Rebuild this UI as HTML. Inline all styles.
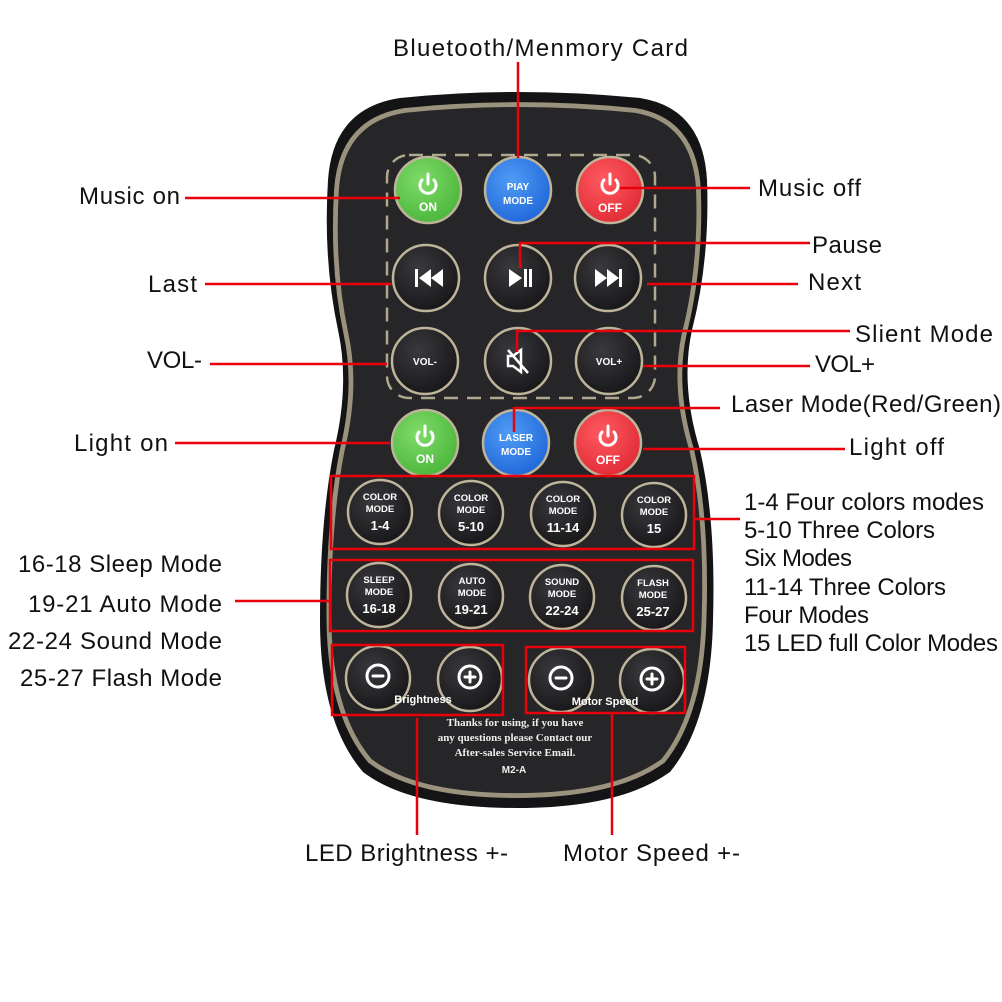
<!DOCTYPE html>
<html><head><meta charset="utf-8"><style>
html,body{margin:0;padding:0;background:#fff;}
svg{display:block;}
.l{font-family:"Liberation Sans",sans-serif;font-size:24px;fill:#111;}
.b{font-family:"Liberation Sans",sans-serif;font-weight:bold;fill:#fff;text-anchor:middle;}
.r{stroke:#e8000b;stroke-width:2.5;fill:none;}
</style></head><body>
<svg width="1002" height="1002" viewBox="0 0 1002 1002" xmlns="http://www.w3.org/2000/svg">
<defs>
<radialGradient id="dk" cx="40%" cy="35%" r="70%"><stop offset="0" stop-color="#3a3a3e"/><stop offset="1" stop-color="#161618"/></radialGradient>
<radialGradient id="gr" cx="40%" cy="35%" r="70%"><stop offset="0" stop-color="#7fdc6a"/><stop offset="1" stop-color="#4ab53a"/></radialGradient>
<radialGradient id="bl" cx="40%" cy="35%" r="70%"><stop offset="0" stop-color="#4f9cf5"/><stop offset="1" stop-color="#1f66d8"/></radialGradient>
<radialGradient id="rd" cx="40%" cy="35%" r="70%"><stop offset="0" stop-color="#ff5a60"/><stop offset="1" stop-color="#e02a35"/></radialGradient>
</defs>
<path d="M400 98 Q517 86 640 98 Q703 108 707 180 Q710 260 692 330 Q680 385 700 450 Q716 520 713 620 Q711 722 670 772 Q620 808 517 808 Q410 808 363 772 Q320 722 320 620 Q320 520 334 450 Q350 385 338 330 Q323 260 328 180 Q333 108 400 98 Z" fill="#141416"/>
<path transform="translate(517 452) scale(0.955 0.965) translate(-517 -452)" d="M400 98 Q517 86 640 98 Q703 108 707 180 Q710 260 692 330 Q680 385 700 450 Q716 520 713 620 Q711 722 670 772 Q620 808 517 808 Q410 808 363 772 Q320 722 320 620 Q320 520 334 450 Q350 385 338 330 Q323 260 328 180 Q333 108 400 98 Z" fill="#262628" stroke="#9a927c" stroke-width="5"/>
<rect x="387" y="155" width="268" height="243" rx="22" fill="none" stroke="#b0a88e" stroke-width="2.5" stroke-dasharray="14 9"/>
<g stroke="#bdb49a" stroke-width="2.5">
<circle cx="428" cy="190" r="33" fill="url(#gr)"/>
<circle cx="518" cy="190" r="33" fill="url(#bl)"/>
<circle cx="610" cy="190" r="33" fill="url(#rd)"/>
<circle cx="426" cy="278" r="33" fill="url(#dk)"/>
<circle cx="518" cy="278" r="33" fill="url(#dk)"/>
<circle cx="608" cy="278" r="33" fill="url(#dk)"/>
<circle cx="425" cy="361" r="33" fill="url(#dk)"/>
<circle cx="518" cy="361" r="33" fill="url(#dk)"/>
<circle cx="609" cy="361" r="33" fill="url(#dk)"/>
<circle cx="425" cy="443" r="33" fill="url(#gr)"/>
<circle cx="516" cy="443" r="33" fill="url(#bl)"/>
<circle cx="608" cy="443" r="33" fill="url(#rd)"/>
<circle cx="380" cy="512" r="32" fill="url(#dk)"/>
<circle cx="471" cy="513" r="32" fill="url(#dk)"/>
<circle cx="563" cy="514" r="32" fill="url(#dk)"/>
<circle cx="654" cy="515" r="32" fill="url(#dk)"/>
<circle cx="379" cy="595" r="32" fill="url(#dk)"/>
<circle cx="471" cy="596" r="32" fill="url(#dk)"/>
<circle cx="562" cy="597" r="32" fill="url(#dk)"/>
<circle cx="654" cy="598" r="32" fill="url(#dk)"/>
<circle cx="378" cy="678" r="32" fill="url(#dk)"/>
<circle cx="470" cy="679" r="32" fill="url(#dk)"/>
<circle cx="561" cy="680" r="32" fill="url(#dk)"/>
<circle cx="652" cy="681" r="32" fill="url(#dk)"/>
</g>
<g stroke="#fff" stroke-width="3" fill="none" stroke-linecap="round">
<path d="M422 180 A8 8 0 1 0 434 180 M428 174 V184"/>
<path d="M604 180 A8 8 0 1 0 616 180 M610 174 V184"/>
<path d="M419 432 A8 8 0 1 0 431 432 M425 426 V436"/>
<path d="M602 432 A8 8 0 1 0 614 432 M608 426 V436"/>
<circle cx="378" cy="676" r="11"/><path d="M373 676 H383"/>
<circle cx="470" cy="677" r="11"/><path d="M465 677 H475 M470 672 V682"/>
<circle cx="561" cy="678" r="11"/><path d="M556 678 H566"/>
<circle cx="652" cy="679" r="11"/><path d="M647 679 H657 M652 674 V684"/>
</g>
<g fill="#fff">
<path d="M415 269 h3 v18 h-3z M431 269 v18 l-12 -9z M443 269 v18 l-12 -9z"/>
<path d="M509 269 v18 l13 -9z M524 269 h3 v18 h-3z M529 269 h3 v18 h-3z"/>
<path d="M595 269 v18 l12 -9z M607 269 v18 l12 -9z M619 269 h3 v18 h-3z"/>
</g>
<g stroke="#fff" stroke-width="2.5" fill="none"><path d="M508 356 h5 l8 -6 v22 l-8 -6 h-5z M508 350 L528 373"/></g>
<g class="b" font-size="12"><text x="428" y="211">ON</text><text x="610" y="212">OFF</text><text x="425" y="463">ON</text><text x="608" y="464">OFF</text></g>
<g class="b" font-size="10"><text x="518" y="190">PIAY</text><text x="518" y="204">MODE</text>
<text x="516" y="441">LASER</text><text x="516" y="455">MODE</text>
<text x="425" y="365">VOL-</text><text x="609" y="365">VOL+</text></g>
<g class="b" font-size="9.5">
<text x="380" y="500">COLOR</text><text x="380" y="512">MODE</text>
<text x="471" y="501">COLOR</text><text x="471" y="513">MODE</text>
<text x="563" y="502">COLOR</text><text x="563" y="514">MODE</text>
<text x="654" y="503">COLOR</text><text x="654" y="515">MODE</text>
<text x="379" y="583">SLEEP</text><text x="379" y="595">MODE</text>
<text x="472" y="584">AUTO</text><text x="472" y="596">MODE</text>
<text x="562" y="585">SOUND</text><text x="562" y="597">MODE</text>
<text x="653" y="586">FLASH</text><text x="653" y="598">MODE</text>
</g>
<g class="b" font-size="13">
<text x="380" y="530">1-4</text><text x="471" y="531">5-10</text><text x="563" y="532">11-14</text><text x="654" y="533">15</text>
<text x="379" y="613">16-18</text><text x="471" y="614">19-21</text><text x="562" y="615">22-24</text><text x="653" y="616">25-27</text>
</g>
<g class="b" font-size="11"><text x="423" y="703">Brightness</text><text x="605" y="705">Motor Speed</text></g>
<g font-family="Liberation Serif,serif" font-weight="bold" font-size="11" fill="#eee" text-anchor="middle">
<text x="515" y="726">Thanks for using, if you have</text>
<text x="515" y="741">any questions please Contact our</text>
<text x="515" y="756">After-sales Service Email.</text>
<text x="514" y="773" font-family="Liberation Sans,sans-serif" font-size="10">M2-A</text>
</g>
<g class="r">
<path d="M518 62 V158"/>
<path d="M185 198 H400"/>
<path d="M620 188 H750"/>
<path d="M520 268 V243 H810"/>
<path d="M205 284 H392"/>
<path d="M647 284 H798"/>
<path d="M517 352 V331 H850"/>
<path d="M210 364 H387"/>
<path d="M643 366 H810"/>
<path d="M514 432 V408 H720"/>
<path d="M175 443 H390"/>
<path d="M643 449 H845"/>
<rect x="331" y="476" width="363" height="73"/>
<path d="M694 519 H740"/>
<rect x="330" y="560" width="363" height="71"/>
<path d="M235 601 H330"/>
<rect x="332" y="645" width="171" height="70"/>
<rect x="526" y="647" width="159" height="66"/>
<path d="M417 718 V835"/>
<path d="M612 713 V835"/>
</g>
<g class="l">
<text x="393" y="56" textLength="295">Bluetooth/Menmory Card</text>
<text x="79" y="204" textLength="101">Music on</text>
<text x="758" y="196" textLength="103">Music off</text>
<text x="812" y="253" textLength="70">Pause</text>
<text x="148" y="292" textLength="49">Last</text>
<text x="808" y="290" textLength="53">Next</text>
<text x="855" y="342" textLength="138">Slient Mode</text>
<text x="147" y="368" textLength="55">VOL-</text>
<text x="815" y="372" textLength="60">VOL+</text>
<text x="731" y="412" textLength="270">Laser Mode(Red/Green)</text>
<text x="74" y="451" textLength="94">Light on</text>
<text x="849" y="455" textLength="95">Light off</text>
<text x="744" y="510" textLength="240">1-4 Four colors modes</text>
<text x="744" y="538" textLength="191">5-10 Three Colors</text>
<text x="744" y="566" textLength="108">Six Modes</text>
<text x="744" y="595" textLength="202">11-14 Three Colors</text>
<text x="744" y="623" textLength="125">Four Modes</text>
<text x="744" y="651" textLength="254">15 LED full Color Modes</text>
<text x="18" y="572" textLength="204">16-18 Sleep Mode</text>
<text x="28" y="612" textLength="194">19-21 Auto Mode</text>
<text x="8" y="649" textLength="214">22-24 Sound Mode</text>
<text x="20" y="686" textLength="202">25-27 Flash Mode</text>
<text x="305" y="861" textLength="203">LED Brightness +-</text>
<text x="563" y="861" textLength="177">Motor Speed +-</text>
</g>
</svg>
</body></html>
